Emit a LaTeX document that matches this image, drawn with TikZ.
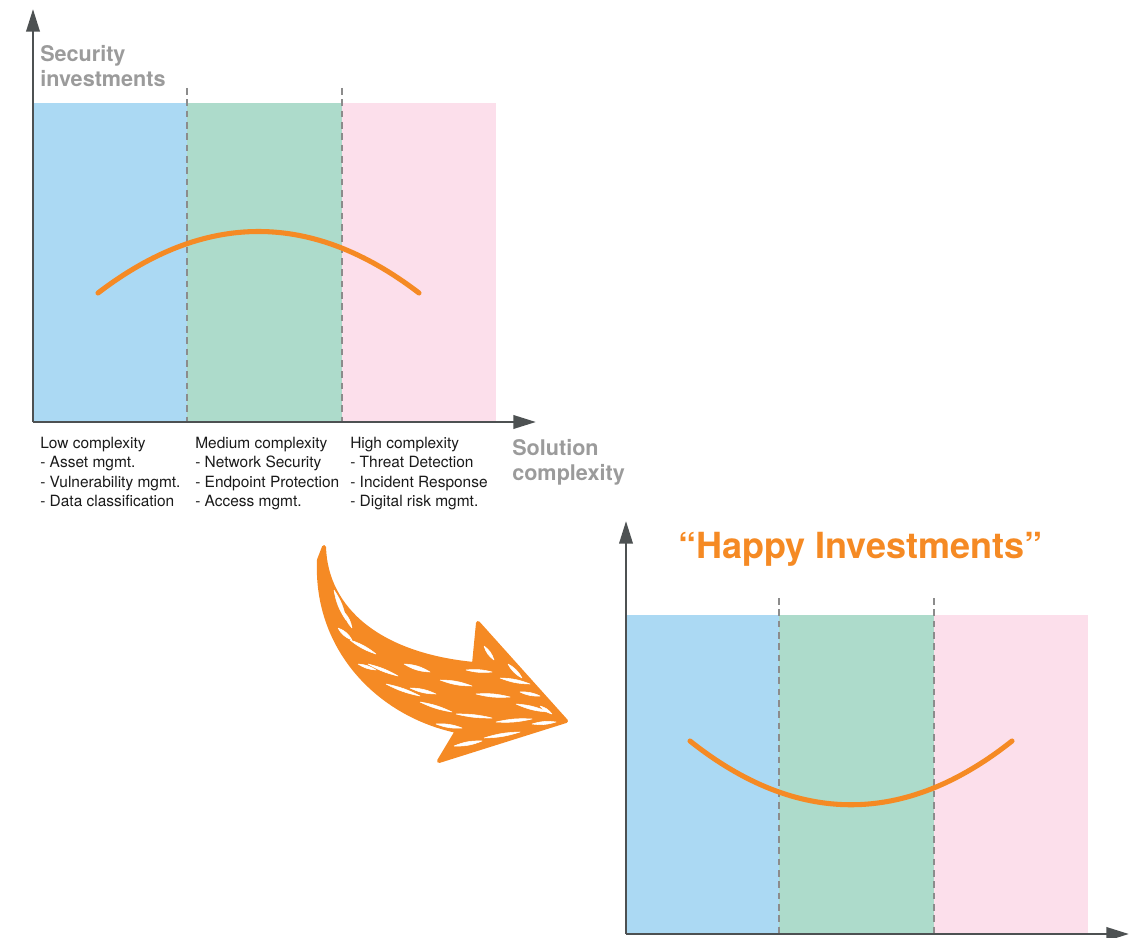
\documentclass[tikz,border=0pt]{standalone}
\usepackage{fontspec}
\setmainfont{TeX Gyre Heros}
\usetikzlibrary{arrows.meta}

\definecolor{lowblue}{HTML}{ABD9F3}
\definecolor{midgreen}{HTML}{ADDBCB}
\definecolor{highpink}{HTML}{FCDFEB}
\definecolor{accent}{HTML}{F58A24}
\definecolor{axisgray}{HTML}{4D5152}
\definecolor{titlegray}{HTML}{9B9B9B}
\definecolor{dashgray}{HTML}{8C8C8C}
\definecolor{labelink}{HTML}{1A1A1A}

\tikzset{
  axisline/.style={draw=axisgray, line width=2pt, -{Triangle[length=17pt,width=10pt]}},
  bandsep/.style={draw=dashgray, line width=1.5pt, dash pattern=on 5pt off 3.5pt},
  trend/.style={draw=accent, line width=3.8pt, line cap=round},
  axistitle/.style={text=titlegray, font=\fontsize{16.2}{19}\selectfont\bfseries, anchor=base west, inner sep=0},
  catlabel/.style={text=labelink, font=\fontsize{11.6}{14}\selectfont, anchor=base west, inner sep=0},
  headline/.style={text=accent, font=\fontsize{27}{30}\selectfont\bfseries, anchor=base west, inner sep=0},
  scribble/.style={fill=white, draw=white, line width=0.4pt, line join=round}
}

\begin{document}
\begin{tikzpicture}[x=0.75pt,y=-0.75pt]
\useasboundingbox (0,0) rectangle (1139,938);

% ---------- upper chart: current investments ----------
\coordinate (o1) at (33,422);
\coordinate (ytip1) at (33,9);
\coordinate (xtip1) at (536,422);

\fill[lowblue]   (33,103)  rectangle (187,422);
\fill[midgreen]  (187,103) rectangle (342,422);
\fill[highpink]  (342,103) rectangle (496,422);

\coordinate (s1top) at (187,88);  \coordinate (s1bot) at (187,422);
\coordinate (s2top) at (342,88);  \coordinate (s2bot) at (342,422);
\draw[bandsep] (s1top) -- (s1bot);
\draw[bandsep] (s2top) -- (s2bot);

\coordinate (c1a) at (98,293);
\coordinate (c1b) at (419,293);
\draw[trend] (c1a) .. controls (205,211) and (312,211) .. (c1b);

\draw[axisline] (o1) -- (ytip1);
\draw[axisline] (o1) -- (xtip1);

\node[axistitle] (yt1) at (40,62) {Security};
\node[axistitle] (yt2) at (40,87) {investments};
\node[axistitle] (xt1) at (512,455) {Solution};
\node[axistitle] (xt2) at (512,480) {complexity};

\node[catlabel] (low0) at (40,448)   {Low complexity};
\node[catlabel] (low1) at (40,467.5) {- Asset mgmt.};
\node[catlabel] (low2) at (40,487)   {- Vulnerability mgmt.};
\node[catlabel] (low3) at (40,506.5) {- Data classification};

\node[catlabel] (mid0) at (195,448)   {Medium complexity};
\node[catlabel] (mid1) at (195,467.5) {- Network Security};
\node[catlabel] (mid2) at (195,487)   {- Endpoint Protection};
\node[catlabel] (mid3) at (195,506.5) {- Access mgmt.};

\node[catlabel] (high0) at (350,448)   {High complexity};
\node[catlabel] (high1) at (350,467.5) {- Threat Detection};
\node[catlabel] (high2) at (350,487)   {- Incident Response};
\node[catlabel] (high3) at (350,506.5) {- Digital risk mgmt.};

% ---------- hand-drawn transition arrow ----------
\fill[accent, draw=accent, line width=3pt, line join=round]
  (324,547) .. controls (326,610) and (380,655) .. (474,664)
  -- (478,623) -- (566,721) -- (439,761) -- (457,731)
  .. controls (380,715) and (315,650) .. (319,560) -- cycle;

% white slivers left by the marker strokes
\foreach \ax/\ay/\bx/\by/\b in {
  334/590/346/620/12, 338/628/352/640/20, 350/640/376/654/10, 368/664/398/676/8,
  386/684/420/696/8, 404/664/430/672/14, 420/702/452/712/8, 440/680/472/686/10,
  456/714/492/718/7, 476/694/510/697/9, 484/646/494/660/18, 500/678/530/684/10,
  496/722/532/719/8, 454/746/482/741/12, 484/738/520/732/8, 516/704/548/712/10,
  508/664/522/678/16, 358/664/376/670/14, 436/724/462/728/12, 532/724/556/722/12,
  466/670/492/672/10, 410/688/436/694/12, 520/692/540/696/14, 468/756/500/748/10,
  344/612/352/628/16, 540/706/552/714/18}
{
  \path[scribble] (\ax,\ay) to[bend left=\b] (\bx,\by) to[bend left=\b] (\ax,\ay);
}

% ---------- lower chart: balanced investments ----------
\coordinate (o2) at (626,934);
\coordinate (ytip2) at (626,521);
\coordinate (xtip2) at (1129,934);

\fill[lowblue]   (626,615) rectangle (779,934);
\fill[midgreen]  (779,615) rectangle (934,934);
\fill[highpink]  (934,615) rectangle (1088,934);

\coordinate (s3top) at (779,598);  \coordinate (s3bot) at (779,934);
\coordinate (s4top) at (934,598);  \coordinate (s4bot) at (934,934);
\draw[bandsep] (s3top) -- (s3bot);
\draw[bandsep] (s4top) -- (s4bot);

\coordinate (c2a) at (690,741);
\coordinate (c2b) at (1012,741);
\draw[trend] (c2a) .. controls (797,826) and (905,826) .. (c2b);

\draw[axisline] (o2) -- (ytip2);
\draw[axisline] (o2) -- (xtip2);

\node[headline] (happy) at (678,558) {“Happy Investments”};

\end{tikzpicture}
\end{document}
